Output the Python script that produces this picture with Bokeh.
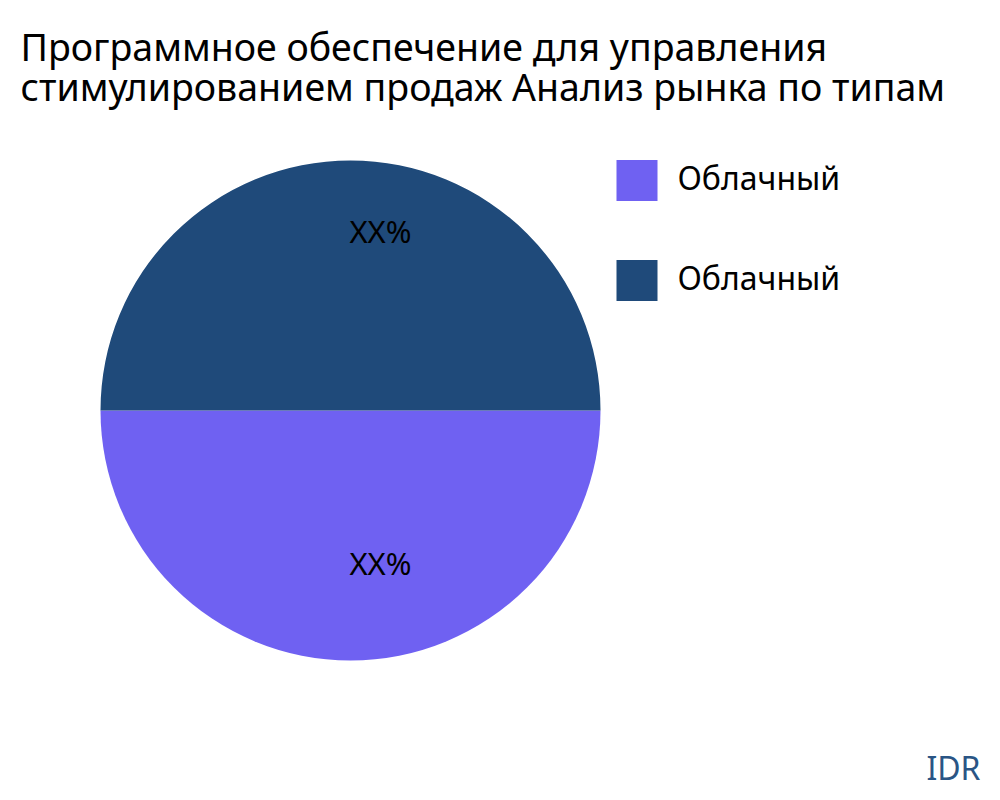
import math
from bokeh.plotting import figure
from bokeh.models import Range1d, ColumnDataSource
from bokeh.core.properties import value
from bokeh.embed import file_html
from bokeh.resources import INLINE

title_lines = ["Программное обеспечение для управления",
               "стимулированием продаж Анализ рынка по типам"]
categories = ["Облачный", "Облачный"]
shares = [50, 50]
slice_labels = ["XX%", "XX%"]
colors = ["#6f61f2", "#1f4a7a"]
brand = "IDR"

W, H = 1000, 800
FONT = "Noto Sans"

p = figure(width=W, height=H, output_backend="svg", toolbar_location=None,
           x_range=Range1d(0, W), y_range=Range1d(0, H), min_border=0)
p.axis.visible = False
p.grid.visible = False
p.outline_line_color = None
p.background_fill_color = "white"

# pie
cx, cy, r = 350, 390, 250
total = sum(shares)
start = math.pi
starts, ends, lx, ly = [], [], [], []
a = start
for s in shares:
    b = a + 2 * math.pi * s / total
    starts.append(a)
    ends.append(b)
    mid = (a + b) / 2
    lx.append(cx + 0.664 * r * math.cos(mid))
    ly.append(cy + 0.664 * r * math.sin(mid))
    a = b

src = ColumnDataSource(dict(start=starts, end=ends, color=colors,
                            lx=lx, ly=ly, lab=slice_labels))
p.wedge(x=cx, y=cy, radius=r, start_angle="start", end_angle="end",
        fill_color="color", line_color=None, source=src)
p.text(x="lx", y="ly", text="lab", source=src, text_align="center",
       text_baseline="middle", text_font=value(FONT), text_font_size="31px",
       text_color="black", x_offset=30, y_offset=-14)

# legend
leg_y = [620 - 100 * i for i in range(len(categories))]
lsrc = ColumnDataSource(dict(y=leg_y, color=colors, lab=categories))
p.rect(x=636.5, y="y", width=41, height=41, fill_color="color",
       line_color=None, source=lsrc)
p.text(x=677, y="y", text="lab", source=lsrc, text_align="left",
       text_baseline="middle", text_font=value(FONT), text_font_size="32px",
       text_color="black", y_offset=-3)

# title
p.text(x=[20, 20], y=[754, 714], text=title_lines, text_align="left",
       text_baseline="alphabetic", text_font=value(FONT),
       text_font_size="37.5px", text_color="black")

# brand
p.text(x=[980], y=[33], text=[brand], text_align="right",
       text_baseline="alphabetic", text_font=value(FONT),
       text_font_size="32px", text_color="#2a5585")

open("out.html", "w").write(file_html(p, INLINE))
